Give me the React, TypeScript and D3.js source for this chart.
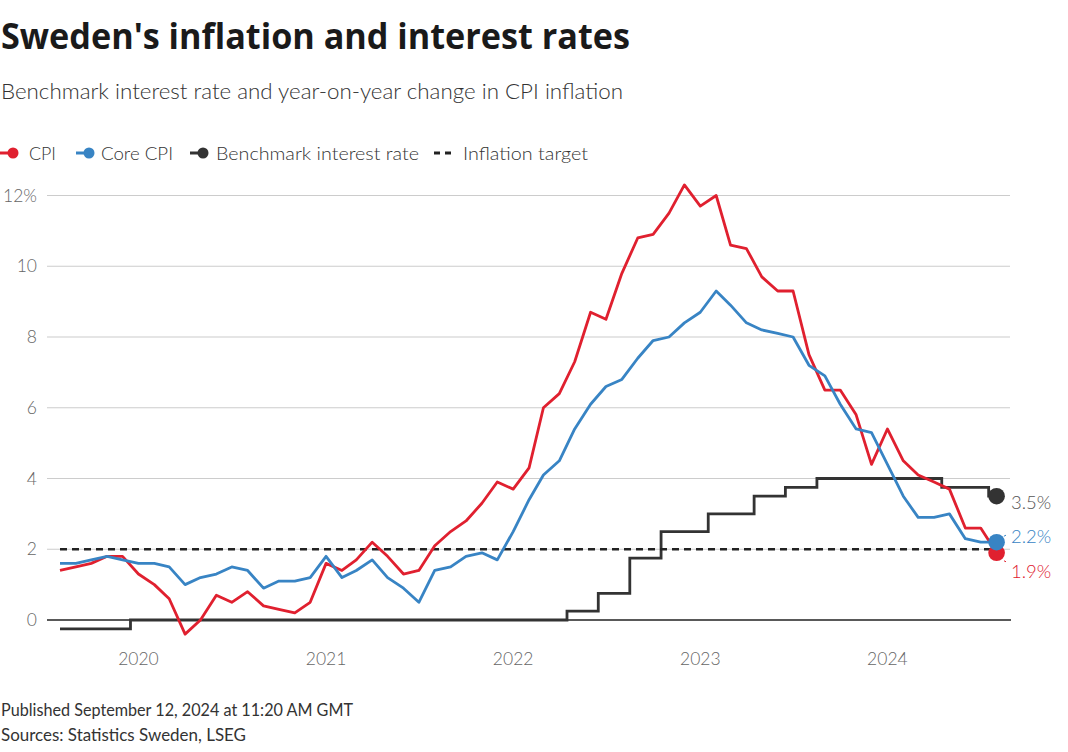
import React from "react";
import * as d3 from "d3";

const startMonth = "2019-08";
const cpi = [
  1.4, 1.5, 1.6, 1.8, 1.8,
  1.3, 1.0, 0.6, -0.4, 0.0, 0.7, 0.5, 0.8, 0.4, 0.3, 0.2, 0.5,
  1.6, 1.4, 1.7, 2.2, 1.8, 1.3, 1.4, 2.1, 2.5, 2.8, 3.3, 3.9,
  3.7, 4.3, 6.0, 6.4, 7.3, 8.7, 8.5, 9.8, 10.8, 10.9, 11.5, 12.3,
  11.7, 12.0, 10.6, 10.5, 9.7, 9.3, 9.3, 7.5, 6.5, 6.5, 5.8, 4.4,
  5.4, 4.5, 4.1, 3.9, 3.7, 2.6, 2.6, 1.9,
];
const coreCpi = [
  1.6, 1.6, 1.7, 1.8, 1.7,
  1.6, 1.6, 1.5, 1.0, 1.2, 1.3, 1.5, 1.4, 0.9, 1.1, 1.1, 1.2,
  1.8, 1.2, 1.4, 1.7, 1.2, 0.9, 0.5, 1.4, 1.5, 1.8, 1.9, 1.7,
  2.5, 3.4, 4.1, 4.5, 5.4, 6.1, 6.6, 6.8, 7.4, 7.9, 8.0, 8.4,
  8.7, 9.3, 8.9, 8.4, 8.2, 8.1, 8.0, 7.2, 6.9, 6.1, 5.4, 5.3,
  4.4, 3.5, 2.9, 2.9, 3.0, 2.3, 2.2, 2.2,
];
const policyRate = [
  -0.25, -0.25, -0.25, -0.25, -0.25,
  0, 0, 0, 0, 0, 0, 0, 0, 0, 0, 0, 0,
  0, 0, 0, 0, 0, 0, 0, 0, 0, 0, 0, 0,
  0, 0, 0, 0, 0.25, 0.25, 0.75, 0.75, 1.75, 1.75, 2.5, 2.5,
  2.5, 3.0, 3.0, 3.0, 3.5, 3.5, 3.75, 3.75, 4.0, 4.0, 4.0, 4.0,
  4.0, 4.0, 4.0, 4.0, 3.75, 3.75, 3.75, 3.5,
];
const inflationTarget = 2;
const yTicks = [0, 2, 4, 6, 8, 10, 12];
const yearTicks = ["2020", "2021", "2022", "2023", "2024"];

const RED = "#e0202f";
const BLUE = "#3884c4";
const DARK = "#333333";
const FONT = "'Source Sans Pro', Lato, 'Noto Sans', sans-serif";

const parseMonth = d3.timeParse("%Y-%m");
const start = parseMonth(startMonth) as Date;
const dates = cpi.map((_, i) => d3.timeMonth.offset(start, i));

export default function App() {
  const x = d3.scaleTime().domain([dates[0], dates[dates.length - 1]]).range([60, 996.6]);
  const y = d3.scaleLinear().domain([0, 12]).range([620, 195.5]);
  const gridX0 = 47;
  const gridX1 = 1010;

  const line = d3
    .line<number>()
    .x((_, i) => x(dates[i]))
    .y((v) => y(v));
  const stepLine = d3
    .line<number>()
    .x((_, i) => x(dates[i]))
    .y((v) => y(v))
    .curve(d3.curveStep);

  const last = dates.length - 1;
  const lx = x(dates[last]);

  const legendItems = [
    { label: "CPI", color: RED, icon: 0, text: 29, w: 27 },
    { label: "Core CPI", color: BLUE, icon: 76, text: 101, w: 72 },
    { label: "Benchmark interest rate", color: DARK, icon: 190, text: 216, w: 203 },
  ];

  return (
    <svg
      width={1068}
      height={752}
      style={{ position: "absolute", left: 0, top: 0, background: "#fff" }}
      fontFamily={FONT}
    >
      <text
        x={1}
        y={49}
        fontSize={35}
        fontWeight={700}
        fill="#1a1a1a"
        fontFamily="'Open Sans', Lato, sans-serif"
        textLength={629}
        lengthAdjust="spacingAndGlyphs"
      >
        Sweden's inflation and interest rates
      </text>
      <text x={1} y={99} fontSize={22} fontWeight={300} fill="#333" textLength={622} lengthAdjust="spacingAndGlyphs">
        Benchmark interest rate and year-on-year change in CPI inflation
      </text>

      {legendItems.map((it) => (
        <g key={it.label}>
          <line x1={it.icon} x2={it.icon + 12} y1={153} y2={153} stroke={it.color} strokeWidth={3} />
          <circle cx={it.icon + 13} cy={153} r={5.5} fill={it.color} />
          <text
            x={it.text}
            y={160}
            fontSize={18.5}
            fill="#333"
            fontWeight={300}
            textLength={it.w}
            lengthAdjust="spacingAndGlyphs"
          >
            {it.label}
          </text>
        </g>
      ))}
      <line x1={434} x2={453} y1={153} y2={153} stroke="#222" strokeWidth={3} strokeDasharray="6 5" />
      <text x={463} y={160} fontSize={18.5} fill="#333" fontWeight={300} textLength={125} lengthAdjust="spacingAndGlyphs">
        Inflation target
      </text>

      {yTicks.map((t) => (
        <g key={t}>
          {t !== 0 && (
            <line x1={gridX0} x2={gridX1} y1={y(t)} y2={y(t)} stroke="#cccccc" strokeWidth={1.2} />
          )}
          <text x={37} y={y(t) + 6} textAnchor="end" fontSize={17.5} fill="#666" fontWeight={300}>
            {t === 12 ? "12%" : String(t)}
          </text>
        </g>
      ))}

      {yearTicks.map((yr) => (
        <text
          key={yr}
          x={x(parseMonth(yr + "-01") as Date)}
          y={665}
          textAnchor="middle"
          fontSize={17.5}
          fill="#666"
          fontWeight={300}
        >
          {yr}
        </text>
      ))}

      <line x1={gridX0} x2={gridX1 + 1} y1={y(0)} y2={y(0)} stroke="#222" strokeWidth={1.6} />

      <path d={stepLine(policyRate) || ""} fill="none" stroke={DARK} strokeWidth={2.8} />
      <line
        x1={x(dates[0])}
        x2={lx}
        y1={y(inflationTarget)}
        y2={y(inflationTarget)}
        stroke="#222"
        strokeWidth={2.5}
        strokeDasharray="7 5"
      />
      <path d={line(cpi) || ""} fill="none" stroke={RED} strokeWidth={2.8} strokeLinejoin="round" />
      <path d={line(coreCpi) || ""} fill="none" stroke={BLUE} strokeWidth={2.8} strokeLinejoin="round" />

      <circle cx={lx} cy={y(policyRate[last])} r={8.3} fill={DARK} />
      <circle cx={lx} cy={y(cpi[last])} r={8.3} fill={RED} />
      <circle cx={lx} cy={y(coreCpi[last])} r={8.3} fill={BLUE} />

      <line x1={1004} x2={1006} y1={y(coreCpi[last]) - 6} y2={y(coreCpi[last]) - 7} stroke={BLUE} strokeWidth={1} />
      <line x1={1004} x2={1006} y1={y(cpi[last]) + 8} y2={y(cpi[last]) + 9} stroke={RED} strokeWidth={1} />

      <text x={1011} y={y(policyRate[last]) + 13} fontSize={18.5} fill="#555" fontWeight={300}>
        {policyRate[last].toFixed(1)}%
      </text>
      <text x={1011} y={y(coreCpi[last]) + 1} fontSize={18.5} fill={BLUE} fontWeight={300}>
        {coreCpi[last].toFixed(1)}%
      </text>
      <text x={1011} y={y(cpi[last]) + 25} fontSize={18.5} fill={RED} fontWeight={300}>
        {cpi[last].toFixed(1)}%
      </text>

      <text x={1} y={716} fontSize={16.5} fill="#333" textLength={352} lengthAdjust="spacingAndGlyphs">
        Published September 12, 2024 at 11:20 AM GMT
      </text>
      <text x={1} y={741} fontSize={16.5} fill="#333" textLength={245} lengthAdjust="spacingAndGlyphs">
        Sources: Statistics Sweden, LSEG
      </text>
    </svg>
  );
}
